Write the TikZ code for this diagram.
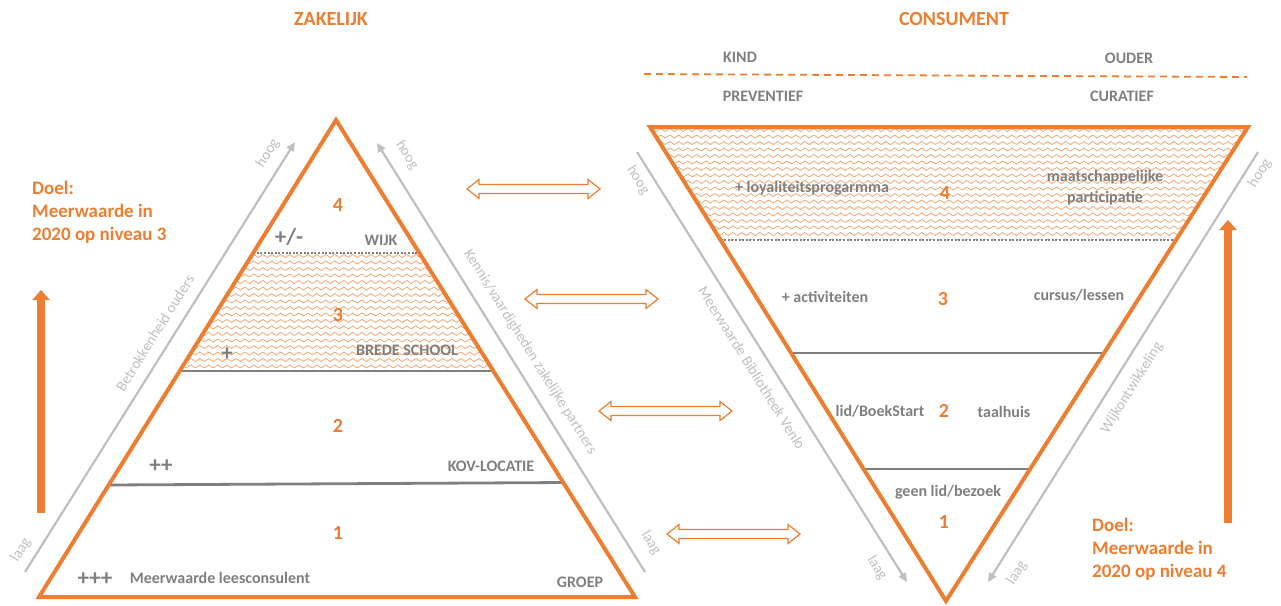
\documentclass[tikz,border=0pt]{standalone}
\usepackage{fontspec}
\setmainfont{Carlito}
\usetikzlibrary{arrows.meta,calc,decorations.pathmorphing}
\definecolor{org}{HTML}{ED7D31}
\definecolor{dgray}{HTML}{7F7F7F}
\definecolor{lgray}{HTML}{BFBFBF}
\newcommand\dblarr[3]{%
  \draw[dblarrow] (#1,#3) -- ++(12,-9.5) -- ++(0,5) -- ++(#2-24,0) -- ++(0,-5)
    -- ++(12,9.5) -- ++(-12,9.5) -- ++(0,-5) -- ++(-#2+24,0) -- ++(0,5) -- cycle;}
\begin{document}
\begin{tikzpicture}[x=1pt,y=-1pt,
  tri/.style={draw=org,line width=4pt,line join=miter},
  level/.style={draw=dgray,line width=2.8pt},
  dotlevel/.style={draw=dgray,line width=2pt,dash pattern=on 2pt off 1.6pt},
  hatch/.style={draw=org!75,line width=0.65pt,decorate,decoration={snake,segment length=9pt,amplitude=1.5pt}},
  axis/.style={draw=lgray,line width=2.2pt},
  axtip/.style={-{Triangle[width=8pt,length=9pt]}},
  goal/.style={draw=org,line width=8pt,-{Triangle[width=17pt,length=10pt]}},
  dblarrow/.style={draw=org,line width=1.2pt,fill=white,line join=miter},
  title/.style={text=org,font=\fontsize{20}{24}\selectfont\bfseries,inner sep=0pt},
  lab/.style={text=dgray,font=\fontsize{16}{18}\selectfont\bfseries,inner sep=0pt},
  num/.style={text=org,font=\fontsize{20}{24}\selectfont\bfseries,inner sep=0pt},
  plus/.style={text=dgray,font=\fontsize{23}{26}\selectfont\bfseries,inner sep=0pt},
  axlab/.style={text=lgray,font=\fontsize{15}{18}\selectfont,inner sep=0pt},
  goaltxt/.style={text=org,font=\fontsize{19}{23}\selectfont\bfseries,align=left,inner sep=0pt,anchor=west}
]
\useasboundingbox (0,0) rectangle (1281,605);
% ---------- coordinates ----------
\coordinate (Ltop) at (336,120);
\coordinate (Lbl) at (39,597);
\coordinate (Lbr) at (635,597);
\coordinate (Rtl) at (650,127);
\coordinate (Rtr) at (1248,127);
\coordinate (Rb) at (946,601);
% ---------- titles ----------
\node[title] (tz) at (331,19) {ZAKELIJK};
\node[title] (tc) at (954,19) {CONSUMENT};
% ---------- left hatch ----------
\begin{scope}
\clip ($(Ltop)!0.2788!(Lbl)$) -- ($(Ltop)!0.2788!(Lbr)$) -- ($(Ltop)!0.5262!(Lbr)$) -- ($(Ltop)!0.5262!(Lbl)$) -- cycle;
\foreach \yy in {256,262.5,...,372} \draw[hatch] (170,\yy) -- (510,\yy);
\end{scope}
% ---------- right hatch ----------
\begin{scope}
\clip (Rtl) -- (Rtr) -- ($(Rb)!0.7616!(Rtr)$) -- ($(Rb)!0.7616!(Rtl)$) -- cycle;
\foreach \yy in {130,136.5,...,242} \draw[hatch] (640,\yy) -- (1260,\yy);
\end{scope}
% ---------- level lines left ----------
\draw[dotlevel] ($(Ltop)!0.2788!(Lbl)$) -- ($(Ltop)!0.2788!(Lbr)$);
\draw[level] ($(Ltop)!0.5262!(Lbl)$) -- ($(Ltop)!0.5262!(Lbr)$);
\draw[level] ($(Ltop)!0.7652!(Lbl)$) -- ($(Ltop)!0.7600!(Lbr)$);
% ---------- level lines right ----------
\draw[dotlevel] ($(Rb)!0.7616!(Rtl)$) -- ($(Rb)!0.7616!(Rtr)$);
\draw[level] ($(Rb)!0.5232!(Rtl)$) -- ($(Rb)!0.5232!(Rtr)$);
\draw[level] ($(Rb)!0.2785!(Rtl)$) -- ($(Rb)!0.2785!(Rtr)$);
% ---------- triangles ----------
\draw[tri] (Ltop) -- (Lbl) -- (Lbr) -- cycle;
\draw[tri] (Rtl) -- (Rtr) -- (Rb) -- cycle;
% ---------- left triangle texts ----------
\node[num] (l4) at (338,205) {4};
\node[plus] (lpm) at (289,237) {+/-};
\node[lab] (lwijk) at (381,240) {WIJK};
\node[num] (l3) at (338,315) {3};
\node[plus] (lp) at (227,354) {+};
\node[lab] (lbrede) at (407,350) {BREDE SCHOOL};
\node[num] (l2) at (338,426) {2};
\node[plus] (lpp) at (161,466) {++};
\node[lab] (lkov) at (491,466) {KOV-LOCATIE};
\node[num] (l1) at (338,533) {1};
\node[plus] (lppp) at (95,579) {+++};
\node[lab] (lmeer) at (220,578) {Meerwaarde leesconsulent};
\node[lab] (lgroep) at (580,582) {GROEP};
% ---------- right top labels ----------
\node[lab] (kind) at (740,57) {KIND};
\node[lab] (ouder) at (1129,58) {OUDER};
\node[lab] (prev) at (763,96) {PREVENTIEF};
\node[lab] (cur) at (1122,96) {CURATIEF};
\coordinate (dl) at (644,74);
\coordinate (dr) at (1247,77);
\draw[draw=org,line width=1.8pt,dash pattern=on 7pt off 5pt] (dl) -- (dr);
% ---------- right triangle texts ----------
\node[lab] (rloy) at (812,188) {+ loyaliteitsprogarmma};
\node[num] (r4) at (945,193) {4};
\node[lab,align=center,font=\fontsize{16}{21}\selectfont\bfseries] (rmaat) at (1105,188) {maatschappelijke\\participatie};
\node[lab] (ract) at (825,297) {+ activiteiten};
\node[num] (r3) at (943,299) {3};
\node[lab] (rcur) at (1079,295) {cursus/lessen};
\node[lab] (rlid) at (880,411) {lid/BoekStart};
\node[num] (r2) at (944,411) {2};
\node[lab] (rtaal) at (1004,412) {taalhuis};
\node[lab] (rgeen) at (948,492) {geen lid/bezoek};
\node[num] (r1) at (944,522) {1};
% ---------- axis arrows ----------
\coordinate (a1s) at (25,572);   \coordinate (a1e) at (295,142);
\coordinate (a2s) at (645,572);  \coordinate (a2e) at (377,143);
\coordinate (a3s) at (637,152);  \coordinate (a3e) at (907,582);
\coordinate (a4s) at (1258,152); \coordinate (a4e) at (988,582);
\draw[axis,axtip] (a1s) -- (a1e);
\draw[axis,axtip] (a2s) -- (a2e);
\draw[axis,axtip] (a3s) -- (a3e);
\draw[axis,axtip] (a4s) -- (a4e);
\node[axlab,rotate=58] (h1) at (268,153) {hoog};
\node[axlab,rotate=58] (g1) at (21,550) {laag};
\node[axlab,rotate=58] (t1) at (155,333) {Betrokkenheid ouders};
\node[axlab,rotate=-58] (h2) at (407,155) {hoog};
\node[axlab,rotate=-58] (g2) at (651,543) {laag};
\node[axlab,rotate=-58] (t2) at (530,352) {Kennis/vaardigheden zakelijke partners};
\node[axlab,rotate=-58] (h3) at (638,180) {hoog};
\node[axlab,rotate=-58] (g3) at (877,568) {laag};
\node[axlab,rotate=-58] (t3) at (752,368) {Meerwaarde Bibliotheek Venlo};
\node[axlab,rotate=58] (h4) at (1260,173) {hoog};
\node[axlab,rotate=58] (g4) at (1017,573) {laag};
\node[axlab,rotate=58] (t4) at (1132,388) {Wijkontwikkeling};
% ---------- goal arrows ----------
\coordinate (gl1) at (41,513); \coordinate (gl2) at (41,290);
\coordinate (gr1) at (1228,523); \coordinate (gr2) at (1228,220);
\draw[goal] (gl1) -- (gl2);
\draw[goal] (gr1) -- (gr2);
\node[goaltxt] (doel3) at (32,212) {Doel:\\Meerwaarde in\\2020 op niveau 3};
\node[goaltxt] (doel4) at (1092,549) {Doel:\\Meerwaarde in\\2020 op niveau 4};
% ---------- double arrows ----------
\dblarr{467}{133}{189}
\dblarr{525}{133}{299}
\dblarr{599}{133}{411}
\dblarr{667}{133}{534}
\end{tikzpicture}
\end{document}
